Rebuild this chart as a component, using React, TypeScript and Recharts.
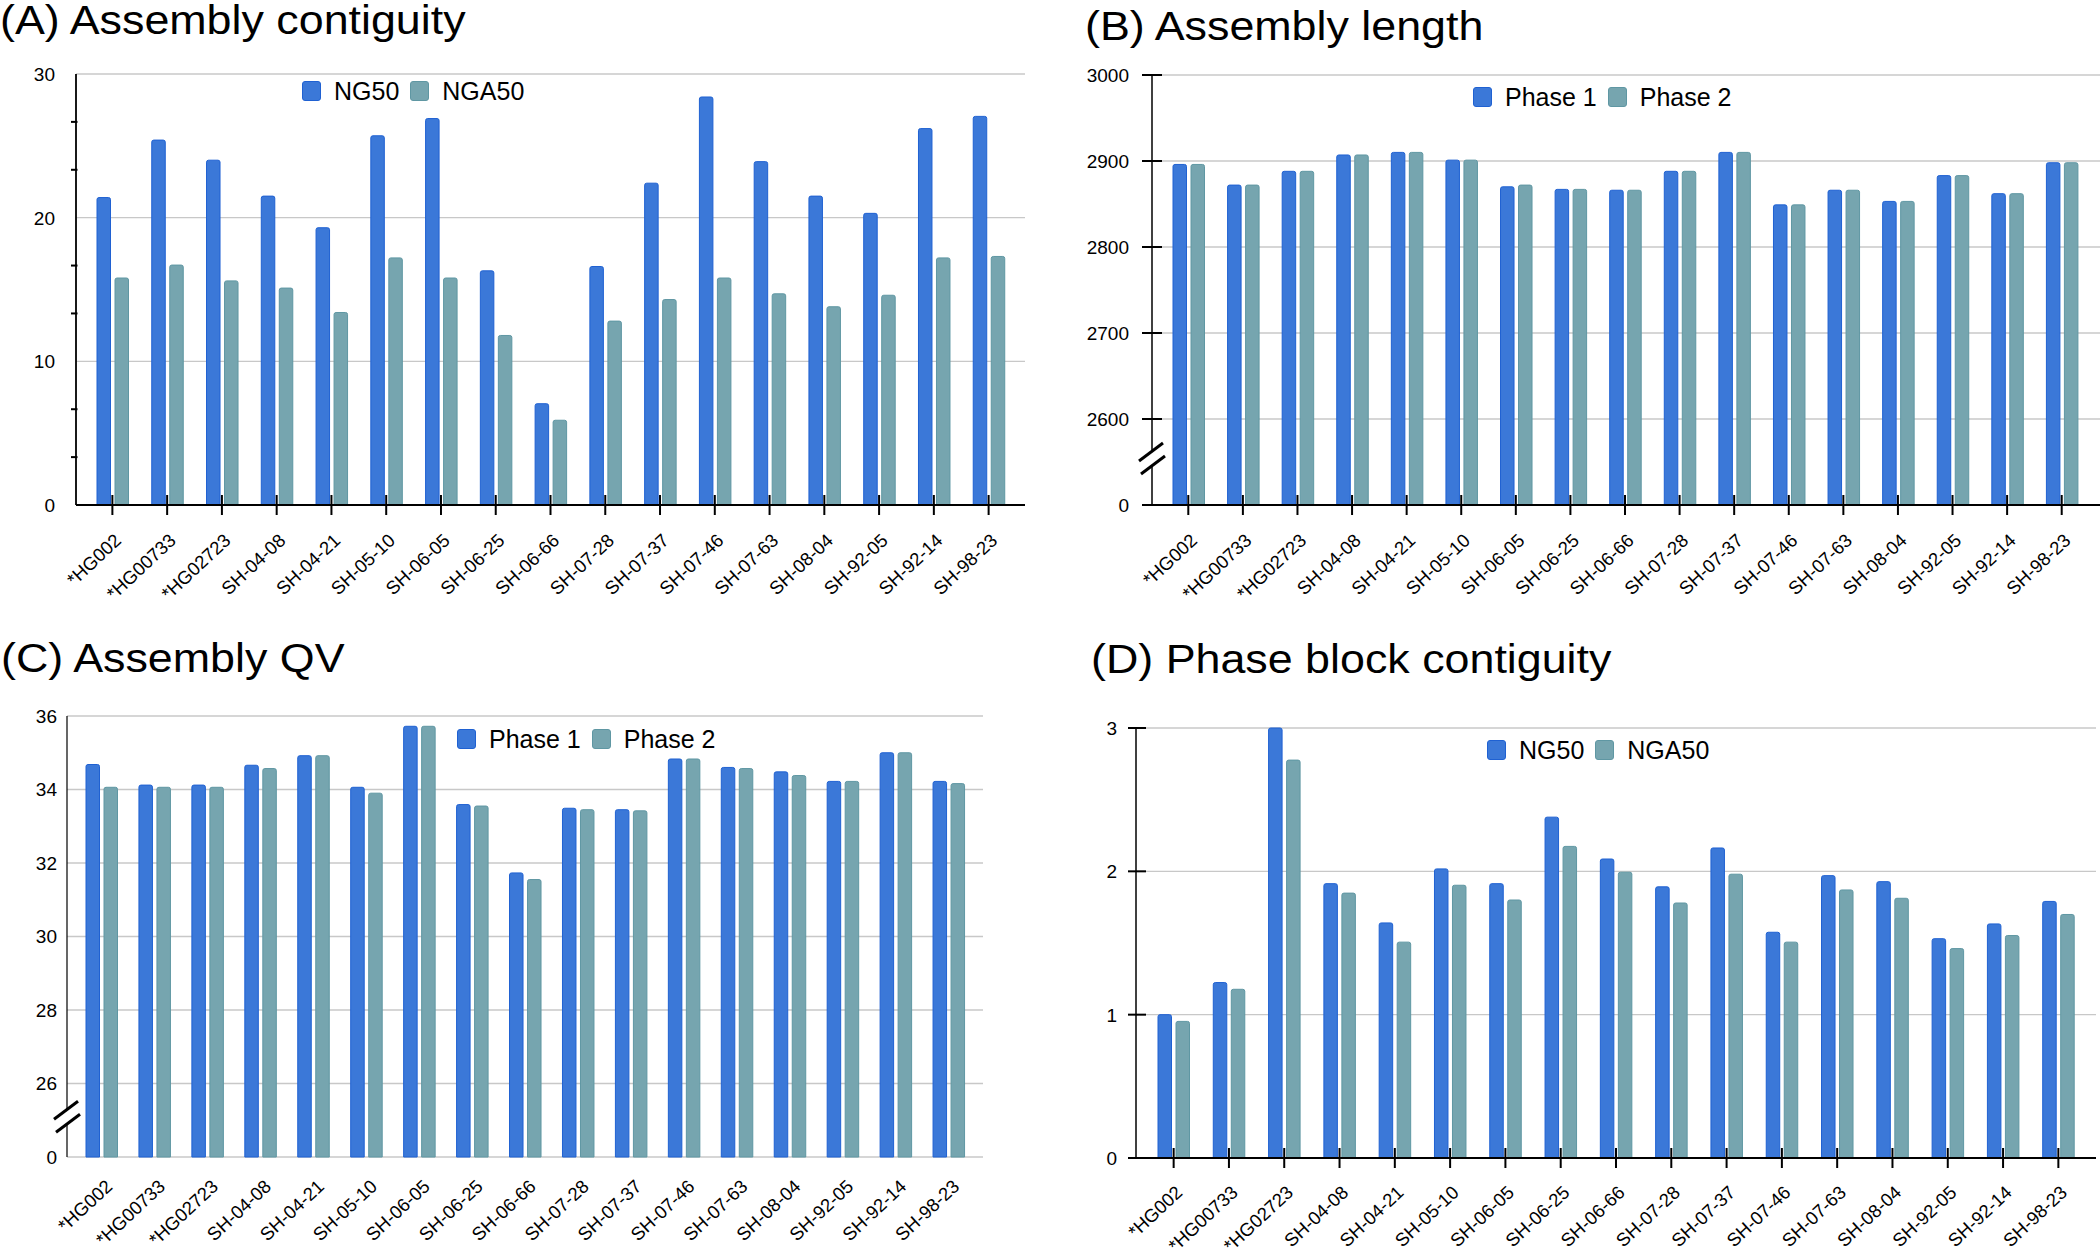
import React from 'react';
import { BarChart, Bar, XAxis, YAxis, CartesianGrid, Legend } from 'recharts';

const FONT = "'Liberation Sans', Arial, Helvetica, sans-serif";
const BLUE = '#3b78d8';
const BLUE_EDGE = '#1f61d2';
const TEAL = '#76a5af';
const TEAL_EDGE = '#5f97a3';

const samples = [
  '*HG002', '*HG00733', '*HG02723', 'SH-04-08', 'SH-04-21', 'SH-05-10', 'SH-06-05', 'SH-06-25',
  'SH-06-66', 'SH-07-28', 'SH-07-37', 'SH-07-46', 'SH-07-63', 'SH-08-04', 'SH-92-05', 'SH-92-14', 'SH-98-23',
];

// (A) assembly contiguity
const contigNG50 = [21.4, 25.4, 24.0, 21.5, 19.3, 25.7, 26.9, 16.3, 7.05, 16.6, 22.4, 28.4, 23.9, 21.5, 20.3, 26.2, 27.05];
const contigNGA50 = [15.8, 16.7, 15.6, 15.1, 13.4, 17.2, 15.8, 11.8, 5.9, 12.8, 14.3, 15.8, 14.7, 13.8, 14.6, 17.2, 17.3];
const contigTicks = [0, 3.333, 6.667, 10, 13.333, 16.667, 20, 23.333, 26.667, 30];
const contigGrid = [10, 20, 30];

// (B) assembly length
const lengthP1 = [2896, 2872, 2888, 2907, 2910, 2901, 2870, 2867, 2866, 2888, 2910, 2849, 2866, 2853, 2883, 2862, 2898];
const lengthP2 = [2896, 2872, 2888, 2907, 2910, 2901, 2872, 2867, 2866, 2888, 2910, 2849, 2866, 2853, 2883, 2862, 2898];
const lengthTicks = [2500, 2550, 2600, 2700, 2800, 2900, 3000];
const lengthGrid = [2600, 2700, 2800, 2900, 3000];

// (C) assembly QV
const qvP1 = [34.68, 34.12, 34.12, 34.66, 34.92, 34.06, 35.72, 33.59, 31.73, 33.49, 33.45, 34.83, 34.6, 34.48, 34.22, 35.0, 34.22];
const qvP2 = [34.06, 34.06, 34.06, 34.57, 34.92, 33.9, 35.72, 33.55, 31.55, 33.45, 33.42, 34.83, 34.57, 34.38, 34.22, 35.0, 34.16];
const qvTicks = [24, 25, 26, 28, 30, 32, 34, 36];
const qvGrid = [24, 26, 28, 30, 32, 34, 36];

// (D) phase block contiguity
const phaseNG50 = [1.0, 1.224, 3.0, 1.914, 1.64, 2.017, 1.914, 2.378, 2.086, 1.892, 2.163, 1.575, 1.97, 1.928, 1.53, 1.633, 1.79];
const phaseNGA50 = [0.953, 1.177, 2.776, 1.848, 1.506, 1.903, 1.8, 2.174, 1.994, 1.779, 1.98, 1.506, 1.87, 1.812, 1.461, 1.552, 1.699];
const phaseTicks = [0, 1, 2, 3];
const phaseGrid = [1, 2, 3];

const rows = (a: number[], b: number[]) => samples.map((name, i) => ({ name, a: a[i], b: b[i] }));

type YCfg = {
  gap: number;
  label: (v: number) => string | null;
  tick: (v: number) => [number, number] | null;
  breakAt?: number;
};

function BreakMark({ x, y }: { x: number; y: number }) {
  return (
    <g>
      <rect x={x - 3} y={y - 11} width={6} height={15} fill="#fff" />
      <line x1={x - 13} y1={y - 1} x2={x + 11} y2={y - 19} stroke="#000" strokeWidth={3} />
      <line x1={x - 11} y1={y + 12} x2={x + 13} y2={y - 6} stroke="#000" strokeWidth={3} />
    </g>
  );
}

function YTick(props: any) {
  const { x, y, payload, cfg } = props;
  const v = payload.value as number;
  const c = cfg as YCfg;
  if (c.breakAt !== undefined && Math.abs(v - c.breakAt) < 1e-6) return <BreakMark x={x} y={y} />;
  const label = c.label(v);
  const t = c.tick(v);
  return (
    <g>
      {t && <line x1={x + t[0]} x2={x + t[1]} y1={y} y2={y} stroke="#000" strokeWidth={2} />}
      {label !== null && (
        <text x={x - c.gap} y={y} dy="0.36em" textAnchor="end" fontSize={19} fontFamily={FONT} fill="#000">
          {label}
        </text>
      )}
    </g>
  );
}

function XTick(props: any) {
  const { x, y, payload, marks, dx, dy } = props;
  const tx = x + dx;
  const ty = y + dy;
  return (
    <g>
      {marks && <line x1={x} x2={x} y1={y - 10} y2={y + 10} stroke="#000" strokeWidth={2} />}
      <text x={tx} y={ty} textAnchor="end" transform={`rotate(-43 ${tx} ${ty})`} fontSize={18.5} fontFamily={FONT} fill="#000">
        {payload.value}
      </text>
    </g>
  );
}

function LegendRow({ payload }: { payload?: any[] }) {
  return (
    <div style={{ display: 'flex', alignItems: 'center', height: 30, fontFamily: FONT, fontSize: 25, color: '#000', whiteSpace: 'nowrap' }}>
      {(payload || []).map((p, i) => (
        <div key={i} style={{ display: 'flex', alignItems: 'center', marginRight: 11 }}>
          <span
            style={{
              display: 'inline-block', width: 17, height: 18, background: p.color, borderRadius: 3,
              border: `1px solid ${p.color === BLUE ? BLUE_EDGE : TEAL_EDGE}`, marginRight: 13,
            }}
          />
          <span>{p.value}</span>
        </div>
      ))}
    </div>
  );
}

type PanelProps = {
  title: string;
  titleLeft: number;
  titleTop: number;
  left: number;
  top: number;
  width: number;
  height: number;
  margin: { top: number; right: number; bottom: number; left: number };
  yWidth: number;
  xHeight: number;
  pad: { left: number; right: number };
  data: { name: string; a: number; b: number }[];
  names: [string, string];
  domain: [number, number];
  ticks: number[];
  grid: number[];
  ycfg: YCfg;
  xMarks: boolean;
  xDx: number;
  xDy: number;
  legendLeft: number;
  legendTop: number;
  axisWidth: number;
};

function Panel(p: PanelProps) {
  return (
    <>
      <div
        style={{
          position: 'absolute', left: p.titleLeft, top: p.titleTop, fontFamily: FONT, fontSize: 40, lineHeight: '40px',
          transform: 'scaleX(1.12)', transformOrigin: 'left top', whiteSpace: 'nowrap', color: '#000',
        }}
      >
        {p.title}
      </div>
      <div style={{ position: 'absolute', left: p.left, top: p.top }}>
        <BarChart width={p.width} height={p.height} data={p.data} margin={p.margin} barSize={13.5} barGap={4.5}>
          <CartesianGrid vertical={false} horizontalValues={p.grid} stroke="#c8c8c8" strokeWidth={1.3} />
          <XAxis
            dataKey="name"
            interval={0}
            height={p.xHeight}
            padding={p.pad}
            tickSize={0}
            tickMargin={0}
            tickLine={false}
            axisLine={p.xMarks ? { stroke: '#000', strokeWidth: 2 } : false}
            tick={(t: any) => <XTick {...t} marks={p.xMarks} dx={p.xDx} dy={p.xDy} />}
          />
          <YAxis
            type="number"
            domain={p.domain}
            ticks={p.ticks}
            interval={0}
            width={p.yWidth}
            tickSize={0}
            tickMargin={0}
            tickLine={false}
            axisLine={{ stroke: '#000', strokeWidth: p.axisWidth }}
            tick={(t: any) => <YTick {...t} cfg={p.ycfg} />}
          />
          <Legend
            layout="horizontal"
            verticalAlign="middle"
            align="center"
            content={(lp: any) => <LegendRow payload={lp.payload} />}
            wrapperStyle={{ left: p.legendLeft, top: p.legendTop, width: 'auto', height: 30 }}
          />
          <Bar dataKey="a" name={p.names[0]} fill={BLUE} stroke={BLUE_EDGE} strokeWidth={1} radius={[2, 2, 0, 0]} isAnimationActive={false} />
          <Bar dataKey="b" name={p.names[1]} fill={TEAL} stroke={TEAL_EDGE} strokeWidth={1} radius={[2, 2, 0, 0]} isAnimationActive={false} />
        </BarChart>
      </div>
    </>
  );
}

const isTen = (v: number) => Math.abs(v - Math.round(v / 10) * 10) < 0.01;

export default function App() {
  return (
    <div style={{ position: 'absolute', left: 0, top: 0, width: 2100, height: 1251, overflow: 'hidden', background: '#fff' }}>
      <Panel
        title="(A) Assembly contiguity"
        titleLeft={0}
        titleTop={0}
        left={0}
        top={50}
        width={1050}
        height={580}
        margin={{ top: 24, right: 25, bottom: 15, left: 10 }}
        yWidth={66}
        xHeight={110}
        pad={{ left: 9, right: 9 }}
        data={rows(contigNG50, contigNGA50)}
        names={['NG50', 'NGA50']}
        domain={[0, 30]}
        ticks={contigTicks}
        grid={contigGrid}
        ycfg={{ gap: 21, label: (v) => (isTen(v) ? String(Math.round(v)) : null), tick: (v) => (isTen(v) ? null : [-5, 1.5]) }}
        xMarks
        xDx={10}
        xDy={37}
        legendLeft={302}
        legendTop={26}
        axisWidth={1.8}
      />
      <Panel
        title="(B) Assembly length"
        titleLeft={1085}
        titleTop={6}
        left={1050}
        top={50}
        width={1050}
        height={580}
        margin={{ top: 25, right: 0, bottom: 15, left: 10 }}
        yWidth={92}
        xHeight={110}
        pad={{ left: 9, right: 11 }}
        data={rows(lengthP1, lengthP2)}
        names={['Phase 1', 'Phase 2']}
        domain={[2500, 3000]}
        ticks={lengthTicks}
        grid={lengthGrid}
        ycfg={{ gap: 23, label: (v) => (v === 2500 ? '0' : String(v)), tick: () => [-10, 10], breakAt: 2550 }}
        xMarks
        xDx={10}
        xDy={37}
        legendLeft={423}
        legendTop={32}
        axisWidth={1.5}
      />
      <Panel
        title="(C) Assembly QV"
        titleLeft={1}
        titleTop={638}
        left={0}
        top={680}
        width={1050}
        height={571}
        margin={{ top: 36, right: 67, bottom: 4, left: 10 }}
        yWidth={57}
        xHeight={90}
        pad={{ left: 8, right: 8 }}
        data={rows(qvP1, qvP2)}
        names={['Phase 1', 'Phase 2']}
        domain={[24, 36]}
        ticks={qvTicks}
        grid={qvGrid}
        ycfg={{ gap: 10, label: (v) => (v === 24 ? '0' : String(v)), tick: () => null, breakAt: 25 }}
        xMarks={false}
        xDx={12}
        xDy={31}
        legendLeft={457}
        legendTop={44}
        axisWidth={1.2}
      />
      <Panel
        title="(D) Phase block contiguity"
        titleLeft={1091}
        titleTop={639}
        left={1050}
        top={680}
        width={1050}
        height={571}
        margin={{ top: 48, right: 4, bottom: 3, left: 10 }}
        yWidth={76}
        xHeight={90}
        pad={{ left: 10, right: 10 }}
        data={rows(phaseNG50, phaseNGA50)}
        names={['NG50', 'NGA50']}
        domain={[0, 3]}
        ticks={phaseTicks}
        grid={phaseGrid}
        ycfg={{ gap: 19, label: (v) => String(v), tick: (v) => (v === 0 ? [-8, 0] : [-8, 10]) }}
        xMarks
        xDx={10}
        xDy={36}
        legendLeft={437}
        legendTop={55}
        axisWidth={1.5}
      />
    </div>
  );
}
